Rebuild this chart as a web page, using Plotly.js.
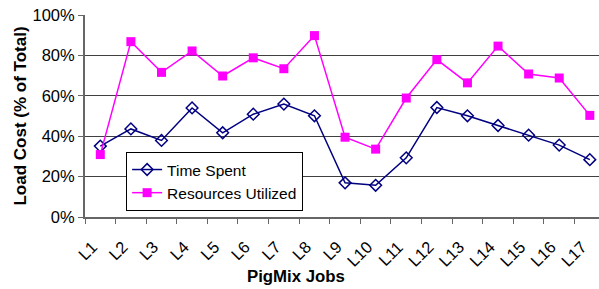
<!DOCTYPE html>
<html>
<head>
<meta charset="utf-8">
<script src="https://cdn.plot.ly/plotly-3.0.1.min.js"></script>
<style>html,body{margin:0;padding:0;background:#fff;}#chart{width:599px;height:289px;}</style>
</head>
<body>
<div id="chart"></div>
<script>
const jobs = ["L1","L2","L3","L4","L5","L6","L7","L8","L9","L10","L11","L12","L13","L14","L15","L16","L17"];
const timeSpent = [35.1, 43.6, 37.9, 54.0, 41.7, 50.9, 55.9, 50.1, 16.9, 15.7, 29.3, 54.2, 50.1, 45.3, 40.5, 35.6, 28.4];
const resourcesUtilized = [30.9, 86.8, 71.6, 82.2, 69.8, 78.8, 73.4, 89.8, 39.5, 33.6, 58.9, 77.9, 66.4, 84.6, 70.8, 68.8, 50.3];

const FONT = "Liberation Sans, Arial, Helvetica, sans-serif";

const traces = [
  {
    x: jobs, y: timeSpent, name: "Time Spent", type: "scatter", mode: "lines+markers",
    line: {color: "#000080", width: 1.5},
    marker: {symbol: "diamond-open", size: 9, color: "#000080", line: {width: 1.5, color: "#000080"}}
  },
  {
    x: jobs, y: resourcesUtilized, name: "Resources Utilized", type: "scatter", mode: "lines+markers",
    line: {color: "#FF00FF", width: 1.5},
    marker: {symbol: "square", size: 9, color: "#FF00FF"}
  }
];

const layout = {
  width: 599, height: 289,
  margin: {l: 85, r: 0, t: 15, b: 72, pad: 0},
  paper_bgcolor: "#ffffff", plot_bgcolor: "#ffffff",
  font: {family: FONT, color: "#000"},
  showlegend: true,
  legend: {
    x: 0.08, y: 0.322, xanchor: "left", yanchor: "top",
    bgcolor: "#ffffff", bordercolor: "#000", borderwidth: 1,
    font: {family: FONT, size: 15.5, color: "#000"},
    tracegroupgap: 0
  },
  xaxis: {
    type: "category",
    range: [-0.5, 16.3],
    tickson: "boundaries",
    ticks: "outside", ticklen: 5, tickcolor: "#666", tickwidth: 1,
    tickangle: -45,
    ticklabelstandoff: 12,
    ticklabelshift: -8,
    tickfont: {family: FONT, size: 16.5, color: "#000"},
    showgrid: false, zeroline: false,
    showline: true, linecolor: "#666", linewidth: 2,
    fixedrange: true
  },
  yaxis: {
    range: [0, 100], dtick: 20, tick0: 0,
    ticksuffix: "%",
    ticks: "outside", ticklen: 5, tickcolor: "#666", tickwidth: 1,
    tickfont: {family: FONT, size: 16.5, color: "#000"},
    showgrid: true, gridcolor: "#404040", gridwidth: 1,
    zeroline: false,
    showline: true, linecolor: "#666", linewidth: 2,
    title: {text: "Load Cost (% of Total)", font: {family: FONT, size: 17, color: "#000", weight: "bold"}, standoff: 2},
    fixedrange: true
  },
  annotations: [
    {
      text: "<b>PigMix Jobs</b>", xref: "paper", yref: "paper",
      x: (296 - 85) / 514, y: -(276 - 216.7) / 202,
      xanchor: "center", yanchor: "middle", showarrow: false,
      font: {family: FONT, size: 16.8, color: "#000"}
    }
  ]
};

Plotly.newPlot("chart", traces, layout, {displayModeBar: false, staticPlot: true});
</script>
</body>
</html>
